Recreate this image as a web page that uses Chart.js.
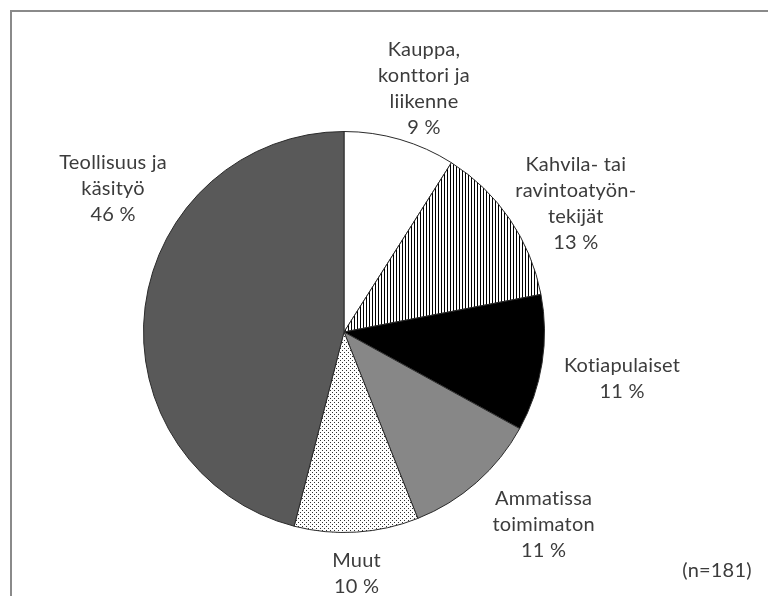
<!DOCTYPE html>
<html>
<head>
<meta charset="utf-8">
<script src="https://cdn.jsdelivr.net/npm/chart.js@4/dist/chart.umd.min.js"></script>
<style>
  html, body { margin: 0; padding: 0; background: #ffffff; }
  #wrap { position: relative; width: 768px; height: 596px; }
</style>
</head>
<body>
<div id="wrap"><canvas id="c" width="768" height="596"></canvas></div>
<script>
// ---- data ----
const categories = [
  ["Kauppa,", "konttori ja", "liikenne"],
  ["Kahvila- tai", "ravintoatyön-", "tekijät"],
  ["Kotiapulaiset"],
  ["Ammatissa", "toimimaton"],
  ["Muut"],
  ["Teollisuus ja", "käsityö"]
];
const percentages = [9, 13, 11, 11, 10, 46];
const sampleNote = "(n=181)";

// ---- styles ----
const FONT = "Lato, 'Open Sans', sans-serif";
const TEXT_COLOR = "#3c3c3c";
const labelOffsets = [[24, -51], [66, -16], [80, 15], [67, 42], [0, 41], [-32, -118]];

function stripePattern() {
  const c = document.createElement('canvas');
  c.width = 3; c.height = 3;
  const g = c.getContext('2d');
  g.fillStyle = '#ffffff'; g.fillRect(0, 0, 3, 3);
  g.fillStyle = '#000000'; g.fillRect(0, 0, 1, 3);
  return g.createPattern(c, 'repeat');
}
function dotPattern() {
  const c = document.createElement('canvas');
  c.width = 4; c.height = 4;
  const g = c.getContext('2d');
  g.fillStyle = '#ffffff'; g.fillRect(0, 0, 4, 4);
  g.fillStyle = '#333333';
  g.fillRect(0, 0, 1, 1);
  g.fillRect(2, 2, 1, 1);
  return g.createPattern(c, 'repeat');
}

const fills = ['#ffffff', stripePattern(), '#000000', '#878787', dotPattern(), '#595959'];

const framePlugin = {
  id: 'frame',
  beforeDraw(chart) {
    const ctx = chart.ctx;
    ctx.save();
    ctx.fillStyle = '#ffffff';
    ctx.fillRect(0, 0, chart.width, chart.height);
    ctx.strokeStyle = '#8a8a8a';
    ctx.lineWidth = 2;
    ctx.beginPath();
    ctx.moveTo(11, chart.height + 5);
    ctx.lineTo(11, 11);
    ctx.lineTo(chart.width + 5, 11);
    ctx.stroke();
    ctx.restore();
  }
};

const labelPlugin = {
  id: 'sliceLabels',
  afterDatasetsDraw(chart) {
    const ctx = chart.ctx;
    const meta = chart.getDatasetMeta(0);
    ctx.save();
    ctx.font = "20px " + FONT;
    if ('letterSpacing' in ctx) ctx.letterSpacing = '0.2px';
    ctx.fillStyle = TEXT_COLOR;
    ctx.textAlign = 'center';
    ctx.textBaseline = 'middle';
    const lh = 26;
    meta.data.forEach((arc, i) => {
      const p = arc.getProps(['x', 'y', 'startAngle', 'endAngle', 'outerRadius'], true);
      const mid = (p.startAngle + p.endAngle) / 2;
      const ax = p.x + Math.cos(mid) * p.outerRadius + labelOffsets[i][0];
      const ay = p.y + Math.sin(mid) * p.outerRadius + labelOffsets[i][1];
      const lines = categories[i].concat([percentages[i] + " %"]);
      const top = ay - (lines.length - 1) * lh / 2;
      lines.forEach((t, k) => ctx.fillText(t, ax, top + k * lh));
    });
    ctx.textAlign = 'center';
    ctx.fillText(sampleNote, 717, 571);
    ctx.restore();
  }
};

new Chart(document.getElementById('c'), {
  type: 'pie',
  data: {
    labels: categories.map(l => l.join(' ')),
    datasets: [{
      data: percentages,
      backgroundColor: fills,
      borderColor: '#2b2b2b',
      borderWidth: 1
    }]
  },
  options: {
    responsive: false,
    animation: false,
    layout: { padding: { left: 143, right: 223, top: 131, bottom: 63 } },
    plugins: { legend: { display: false }, tooltip: { enabled: false } }
  },
  plugins: [framePlugin, labelPlugin]
});
</script>
</body>
</html>
